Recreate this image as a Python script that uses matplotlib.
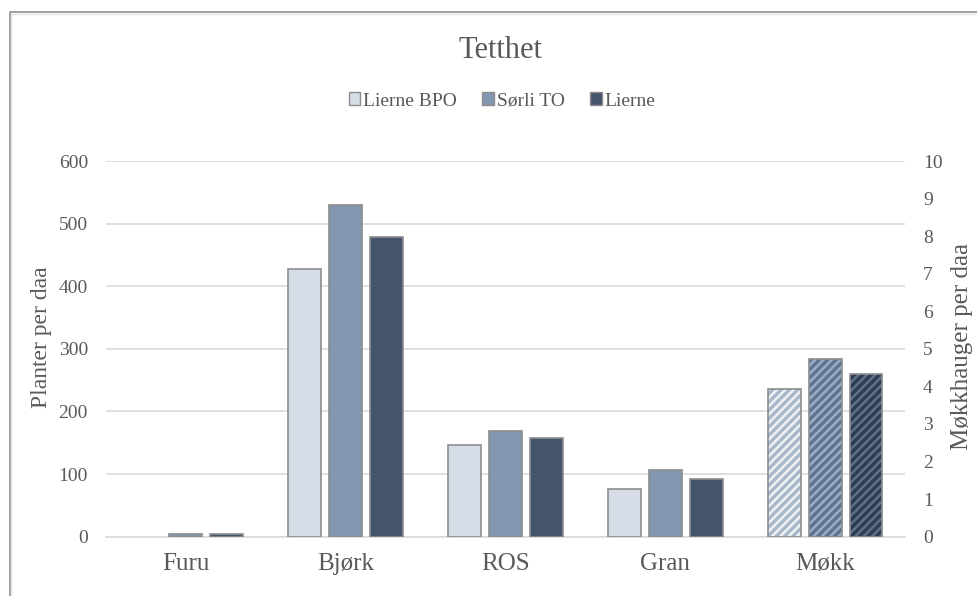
import numpy as np
import matplotlib
matplotlib.use("Agg")
import matplotlib.pyplot as plt
from matplotlib.lines import Line2D
from matplotlib.patches import Patch

plt.rcParams['font.family'] = ['Liberation Serif', 'DejaVu Serif']
plt.rcParams['hatch.linewidth'] = 1.8

# Plant density per species (primary axis)
categories = ['Furu', 'Bjørk', 'ROS', 'Gran', 'Møkk']
series_names = ['Lierne BPO', 'Sørli TO', 'Lierne']
lierne_bpo = [np.nan, 428, 146, 76]
sorli_to = [4, 530, 169, 107]
lierne = [4, 478, 157, 92]
# Dung heaps per daa (secondary axis)
mokk = [3.93, 4.73, 4.33]

face_colors = ['#D6DCE5', '#8497B0', '#44546A']
# striped fills for the dung-heap bars: darker base with lighter stripes
stripe_base = ['#A9B7CA', '#5F7493', '#2E3C53']
stripe_colors = ['#EEF1F6', '#9DADC4', '#607089']
edge_color = '#8C8C8C'
text_color = '#595959'
grid_color = '#D9D9D9'

W, H = 978, 596
fig = plt.figure(figsize=(W / 100, H / 100), dpi=100)
ax = fig.add_axes([106 / W, (H - 536.7) / H, 799 / W, 375.7 / H])
ax2 = ax.twinx()

x = np.arange(len(categories))
width = 0.206
step = 0.256
offsets = [-step, 0, step]

for i, vals in enumerate([lierne_bpo, sorli_to, lierne]):
    xs = x[:4] + offsets[i]
    v = np.array(vals, dtype=float)
    m = ~np.isnan(v)
    ax.bar(xs[m], v[m], width=width, color=face_colors[i],
           edgecolor=edge_color, linewidth=1.2, zorder=3)

# Striped bars for dung heaps on the secondary axis
for i, val in enumerate(mokk):
    xp = x[4] + offsets[i]
    ax2.bar(xp, val, width=width, color=stripe_base[i], hatch='////',
            edgecolor=stripe_colors[i], linewidth=0, zorder=3)
    ax2.bar(xp, val, width=width, fill=False,
            edgecolor=edge_color, linewidth=1.2, zorder=4)

ax.set_xlim(-0.5, len(categories) - 0.5)
ax.set_ylim(0, 600)
ax.set_yticks(np.arange(0, 601, 100))
ax2.set_ylim(0, 10)
ax2.set_yticks(np.arange(0, 11, 1))

ax.set_xticks(x)
ax.set_xticklabels(categories, fontsize=18, color=text_color)
ax.tick_params(axis='x', length=0, pad=12)
ax.tick_params(axis='y', length=0, pad=13, labelsize=14, labelcolor=text_color)
ax2.tick_params(axis='y', length=0, pad=13, labelsize=14, labelcolor=text_color)

ax.grid(axis='y', color=grid_color, linewidth=1.2, zorder=0)
ax.set_axisbelow(True)
for a in (ax, ax2):
    for s in a.spines.values():
        s.set_visible(False)
ax.spines['bottom'].set_visible(True)
ax.spines['bottom'].set_color(grid_color)
ax.spines['bottom'].set_linewidth(1.2)

ax.set_ylabel('Planter per daa', fontsize=17, color=text_color)
ax.yaxis.set_label_coords(-0.0676, 0.53)
ax2.set_ylabel('Møkkhauger per daa', fontsize=18, color=text_color, rotation=90)
ax2.yaxis.set_label_coords(1.058, 0.506)

fig.text(500 / W, 1 - 50 / H, 'Tetthet', ha='center', va='center',
         fontsize=22, color=text_color)

handles = [Patch(facecolor=c, edgecolor=edge_color, linewidth=1.0) for c in face_colors]
fig.legend(handles, series_names, loc='center', bbox_to_anchor=(502 / W, 1 - 101 / H),
           ncol=3, frameon=False, fontsize=14, labelcolor=text_color,
           handlelength=0.6, handleheight=0.6, handletextpad=0.15,
           columnspacing=1.3, borderpad=0)

# Frame around the figure
fig.add_artist(Line2D([9.5 / W, 9.5 / W, 1.0], [0.0, 1 - 11.5 / H, 1 - 11.5 / H],
                      transform=fig.transFigure, color='#8F8F8F', linewidth=1.2))
fig.add_artist(Line2D([11.5 / W, 11.5 / W, 1.0], [0.0, 1 - 13.5 / H, 1 - 13.5 / H],
                      transform=fig.transFigure, color='#E3E3E3', linewidth=1.0))

fig.savefig('out.png', dpi=100)
